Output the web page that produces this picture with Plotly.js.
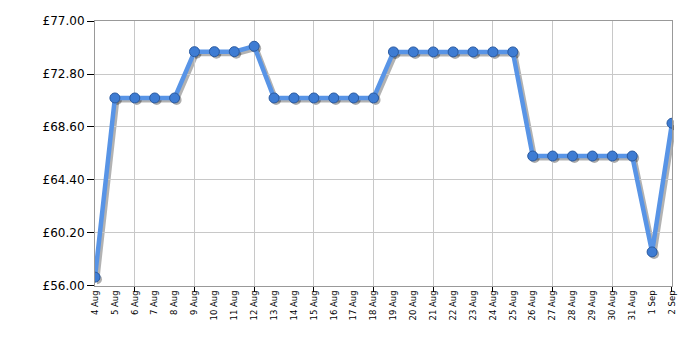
<!DOCTYPE html>
<html><head><meta charset="utf-8">
<script src="https://cdn.plot.ly/plotly-3.0.1.min.js"></script>
<style>body{margin:0;background:#fff}#c{width:700px;height:350px}</style>
</head><body><div id="c"></div>
<script>
const dates = ["4 Aug","5 Aug","6 Aug","7 Aug","8 Aug","9 Aug","10 Aug","11 Aug","12 Aug","13 Aug","14 Aug","15 Aug","16 Aug","17 Aug","18 Aug","19 Aug","20 Aug","21 Aug","22 Aug","23 Aug","24 Aug","25 Aug","26 Aug","27 Aug","28 Aug","29 Aug","30 Aug","31 Aug","1 Sep","2 Sep"];
const prices = [56.7,70.9,70.9,70.9,70.9,74.57,74.57,74.57,75.0,70.9,70.9,70.9,70.9,70.9,70.9,74.55,74.55,74.55,74.55,74.55,74.55,74.55,66.3,66.3,66.3,66.3,66.3,66.3,58.7,68.9];
const yTicks = [56.0,60.2,64.4,68.6,72.8,77.0];
const gridDays = ["6 Aug","9 Aug","12 Aug","15 Aug","18 Aug","21 Aug","24 Aug","27 Aug","30 Aug","2 Sep"];

const W = 577, H = 265;
const ex = 2 / W, ey = 2 / H;

const traces = [
  {x: dates, y: prices, xaxis: 'x', yaxis: 'y', mode: 'lines+markers', hoverinfo: 'skip',
   line: {color: 'rgba(0,0,0,0.3)', width: 5},
   marker: {size: 10, color: 'rgba(0,0,0,0.32)'}},
  {x: dates, y: prices, xaxis: 'x3', yaxis: 'y2', mode: 'lines', hoverinfo: 'skip',
   line: {color: 'rgba(0,0,0,0)', width: 0}},
  {x: dates, y: prices, xaxis: 'x2', yaxis: 'y2', mode: 'lines+markers',
   line: {color: '#5894e6', width: 4.5},
   marker: {size: 10, color: '#3e7cd3', line: {color: '#2a5aa0', width: 1}}}
];

const layout = {
  width: 700, height: 350,
  margin: {l: 95, r: 28 - 2, t: 21, b: 64 - 2},
  paper_bgcolor: '#fff', plot_bgcolor: 'rgba(0,0,0,0)',
  showlegend: false,
  font: {family: 'DejaVu Sans, Verdana, sans-serif', color: '#000'},
  xaxis: {type: 'category', domain: [ex, 1], range: [0, dates.length - 1], visible: false, anchor: 'y'},
  yaxis: {domain: [0, 1 - ey], range: [56, 77], visible: false, anchor: 'x'},
  xaxis2: {type: 'category', domain: [0, 1 - ex], range: [0, dates.length - 1],
    tickmode: 'array', tickvals: dates, ticktext: dates, tickangle: -90,
    tickfont: {size: 8.5, color: '#000'}, ticks: '', showgrid: false,
    showline: true, linecolor: '#999', linewidth: 1, mirror: true, zeroline: false, anchor: 'y2'},
  xaxis3: {type: 'category', overlaying: 'x2', range: [0, dates.length - 1],
    tickmode: 'array', tickvals: gridDays, showticklabels: false,
    ticks: 'outside', ticklen: 5, tickcolor: '#000',
    showgrid: true, gridcolor: '#c8c8c8', gridwidth: 1, zeroline: false, anchor: 'y2', side: 'bottom'},
  yaxis2: {domain: [ey, 1], range: [56, 77], tickmode: 'array', tickvals: yTicks,
    ticktext: yTicks.map(v => '£' + v.toFixed(2)),
    tickfont: {size: 12, color: '#000'}, ticks: 'outside', ticklen: 7, tickcolor: '#000',
    showgrid: true, gridcolor: '#c8c8c8', showline: true, linecolor: '#999', mirror: true,
    zeroline: false, anchor: 'x2'}
};

Plotly.newPlot('c', traces, layout, {displayModeBar: false, staticPlot: true});
</script>
</body></html>
